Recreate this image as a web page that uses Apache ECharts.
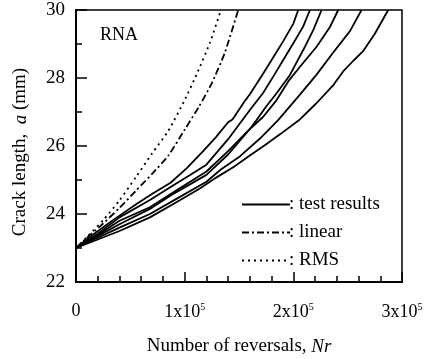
<!DOCTYPE html>
<html><head><meta charset="utf-8">
<script src="https://cdn.jsdelivr.net/npm/echarts@6/dist/echarts.min.js"></script>
<style>html,body{margin:0;padding:0;background:#fff}#c{width:431px;height:359px}</style>
</head><body><div id="c"></div>
<script>
// Number of reversals (Nr) and crack length a (mm)
const testA_N = [0, 13000, 34000, 56000, 71000, 87000, 102000, 117000, 129000, 140000, 144000, 156000, 160000, 172000, 182000, 191000, 200000, 204500];
const testA_a = [23, 23.33, 23.82, 24.3, 24.61, 24.92, 25.35, 25.85, 26.27, 26.7, 26.78, 27.35, 27.52, 28.12, 28.63, 29.1, 29.6, 30];
const testB_N = [0, 20000, 40000, 68000, 90000, 105000, 120000, 140000, 160000, 172000, 181500, 190700, 200000, 209000, 215300];
const testB_a = [23, 23.42, 23.9, 24.41, 24.85, 25.15, 25.45, 26.2, 27.06, 27.55, 28.04, 28.53, 29.02, 29.51, 30];
const testC_N = [0, 20000, 40000, 68000, 90000, 120000, 140000, 160000, 166000, 175000, 184600, 196900, 210700, 218300, 226000];
const testC_a = [23, 23.38, 23.8, 24.2, 24.65, 25.25, 25.85, 26.5, 26.76, 27.16, 27.55, 28.09, 28.92, 29.41, 30];
const testD_N = [0, 20000, 40000, 68000, 90000, 120000, 140000, 160000, 172300, 184600, 195300, 206100, 221400, 233700, 241300];
const testD_a = [23, 23.35, 23.7, 24.15, 24.6, 25.15, 25.75, 26.5, 26.86, 27.35, 27.9, 28.33, 28.92, 29.5, 30];
const testE_N = [0, 20000, 40000, 68000, 90000, 120000, 133000, 151000, 169300, 186000, 204500, 221400, 236700, 252100, 262800];
const testE_a = [23, 23.3, 23.6, 24.0, 24.4, 24.95, 25.3, 25.7, 26.22, 26.76, 27.45, 28.1, 28.75, 29.38, 30];
const testF_N = [0, 20000, 40000, 68000, 90000, 114000, 129000, 145000, 160000, 175000, 188000, 206000, 221000, 237000, 246000, 255000, 264000, 275000, 287300];
const testF_a = [23, 23.25, 23.5, 23.9, 24.3, 24.75, 25.07, 25.38, 25.72, 26.05, 26.35, 26.78, 27.25, 27.8, 28.2, 28.5, 28.78, 29.3, 30];
const linear_N = [0, 10000, 25000, 40000, 55000, 70000, 85000, 100000, 113000, 125000, 137000, 149300];
const linear_a = [23, 23.3, 23.72, 24.18, 24.68, 25.18, 25.72, 26.48, 27.15, 27.85, 28.75, 30];
const rms_N = [0, 10000, 25000, 40000, 55000, 70000, 85000, 100000, 112000, 123000, 133400];
const rms_a = [23, 23.32, 23.82, 24.4, 25.08, 25.78, 26.45, 27.35, 28.18, 29.02, 30];
const xTickLabels = ['0', '1x10', '2x10', '3x10'];
const yTicks = [22, 24, 26, 28, 30];
const legendNames = ['test results', 'linear', 'RMS'];

const zip = (xs, ys) => xs.map((x, i) => [x, ys[i]]);
const FONT = 'Liberation Serif';
const testSets = [[testA_N, testA_a], [testB_N, testB_a], [testC_N, testC_a], [testD_N, testD_a], [testE_N, testE_a], [testF_N, testF_a]];
const series = testSets.map(([n, a]) => ({
  name: legendNames[0], type: 'line', data: zip(n, a), symbol: 'none', silent: true,
  lineStyle: { color: '#000', width: 1.8, type: 'solid' }, itemStyle: { color: '#000' }
}));
series.push({ name: legendNames[1], type: 'line', data: zip(linear_N, linear_a), symbol: 'none', smooth: 0.2,
  lineStyle: { color: '#000', width: 1.8, type: [7, 3, 2, 3] }, itemStyle: { color: '#000' } });
series.push({ name: legendNames[2], type: 'line', data: zip(rms_N, rms_a), symbol: 'none', smooth: 0.2,
  lineStyle: { color: '#000', width: 1.8, type: [2, 4] }, itemStyle: { color: '#000' } });

const chart = echarts.init(document.getElementById('c'), null, { renderer: 'canvas' });
chart.setOption({
  animation: false,
  backgroundColor: '#fff',
  grid: { left: 76, top: 10, right: 29, bottom: 77, show: true, borderColor: '#000', borderWidth: 1.5, containLabel: false, outerBoundsMode: 'none' },
  legend: {
    data: legendNames, orient: 'vertical', left: 236, top: 190, itemWidth: 48, itemHeight: 14, itemGap: 9,
    itemStyle: { opacity: 0 },
    formatter: n => ': ' + n, textStyle: { fontFamily: FONT, fontSize: 19, color: '#000', padding: [0, 0, 0, -6] }
  },
  xAxis: {
    type: 'value', min: 0, max: 300000, interval: 100000,
    name: 'Number of reversals, {i|Nr}', nameLocation: 'middle', nameGap: 55,
    nameTextStyle: { fontFamily: FONT, fontSize: 19, color: '#000', rich: { i: { fontFamily: FONT, fontSize: 19, fontStyle: 'italic' } } },
    axisLine: { lineStyle: { color: '#000', width: 2 } },
    axisTick: { inside: true, length: 10, lineStyle: { color: '#000', width: 1.5 } },
    minorTick: { show: true, splitNumber: 5, length: 6, lineStyle: { color: '#000', width: 1.5 } },
    splitLine: { show: false },
    axisLabel: {
      margin: 20, fontFamily: FONT, fontSize: 18, color: '#000',
      formatter: v => { const i = Math.round(v / 100000); return i === 0 ? xTickLabels[0] : xTickLabels[i] + '{s|5}'; },
      rich: { s: { fontFamily: FONT, fontSize: 10, verticalAlign: 'top', padding: [0, 0, 10, 0] } }
    }
  },
  yAxis: {
    type: 'value', min: yTicks[0], max: yTicks[yTicks.length - 1], interval: 2,
    name: 'Crack length,  {i|a} (mm)', nameLocation: 'middle', nameGap: 46,
    nameTextStyle: { fontFamily: FONT, fontSize: 19, color: '#000', padding: [0, 12, 0, 0], rich: { i: { fontFamily: FONT, fontSize: 19, fontStyle: 'italic' } } },
    axisLine: { lineStyle: { color: '#000', width: 2 } },
    axisTick: { inside: true, length: 11, lineStyle: { color: '#000', width: 1.5 } },
    minorTick: { show: true, splitNumber: 2, length: 6, lineStyle: { color: '#000', width: 1.5 } },
    splitLine: { show: false },
    axisLabel: { margin: 11, fontFamily: FONT, fontSize: 19, color: '#000' }
  },
  graphic: [{ type: 'text', left: 100, top: 26, style: { text: 'RNA', font: '18px "Liberation Serif"', fill: '#000' } }],
  series
});
</script></body></html>
